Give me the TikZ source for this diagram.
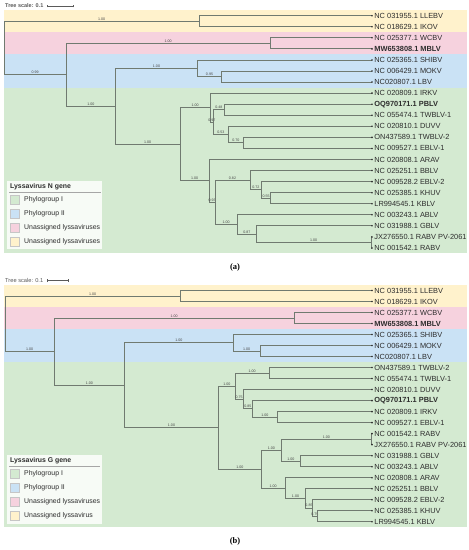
\documentclass[tikz,border=0pt]{standalone}
\usepackage{fontspec}
\setmainfont{Liberation Sans}
\newfontfamily\labfont{Liberation Serif}
\definecolor{ybd}{RGB}{255,242,204}
\definecolor{pbd}{RGB}{246,210,222}
\definecolor{bbd}{RGB}{202,226,245}
\definecolor{gbd}{RGB}{212,234,209}
\definecolor{brc}{RGB}{112,122,112}
\definecolor{blc}{RGB}{70,70,70}
\definecolor{lfc}{RGB}{45,45,45}
\definecolor{scc}{RGB}{90,90,90}
\tikzset{
  br/.style={draw=brc, line width=0.85pt},
  bl/.style={pos=0.75, above, inner sep=0.5pt, font=\fontsize{3.6}{4}\selectfont, text=blc},
  leaf/.style={anchor=west, inner sep=0pt, xshift=2.2pt, font=\fontsize{7.4}{8}\selectfont, text=lfc},
  lgt/.style={anchor=west, inner sep=0pt, font=\fontsize{6.9}{8}\selectfont, text=lfc},
  lgh/.style={anchor=west, inner sep=0pt, font=\bfseries\fontsize{6.9}{8}\selectfont, text=lfc},
  sw/.style={line width=0.5pt},
  scl/.style={anchor=west, inner sep=0pt, text=scc},
  sub/.style={inner sep=0pt, font=\labfont\bfseries\fontsize{8.5}{10}\selectfont}
}
\newcommand\tbr[3]{\draw[br] (#1) |- node[bl]{#3} (#2);}
\newcommand\tlf[2]{\draw[br] (#1) |- (#2);}
\begin{document}
\begin{tikzpicture}[x=1pt,y=-1pt]
\useasboundingbox (0,0) rectangle (469,550);
% ================= panel (a) =================
\fill[ybd] (4.3,10.17) rectangle (467,32.29);
\fill[pbd] (4.3,32.29) rectangle (467,54.41);
\fill[bbd] (4.3,54.41) rectangle (467,87.59);
\fill[gbd] (4.3,87.59) rectangle (467,253.49);
\node[scl, font=\bfseries\fontsize{5.5}{6}\selectfont] (tsa) at (5,6) {Tree scale: 0.1};
\coordinate (sa1) at (47,6); \coordinate (sa2) at (73,6);
\draw[scc, line width=0.5pt] (sa1) -- (sa2);
\draw[scc, line width=0.5pt] ([yshift=-1.3pt]sa1) -- ([yshift=1.3pt]sa1);
\draw[scc, line width=0.5pt] ([yshift=-1.3pt]sa2) -- ([yshift=1.3pt]sa2);
\foreach \i/\t in {1/{NC 031955.1 LLEBV},2/{NC 018629.1 IKOV},3/{NC 025377.1 WCBV},4/{\bfseries MW653808.1 MBLV},5/{NC 025365.1 SHIBV},6/{NC 006429.1 MOKV},7/{NC020807.1 LBV},8/{NC 020809.1 IRKV},9/{\bfseries OQ970171.1 PBLV},10/{NC 055474.1 TWBLV-1},11/{NC 020810.1 DUVV},12/{ON437589.1 TWBLV-2},13/{NC 009527.1 EBLV-1},14/{NC 020808.1 ARAV},15/{NC 025251.1 BBLV},16/{NC 009528.2 EBLV-2},17/{NC 025385.1 KHUV},18/{LR994545.1 KBLV},19/{NC 003243.1 ABLV},20/{NC 031988.1 GBLV},21/{JX276550.1 RABV PV-2061},22/{NC 001542.1 RABV}}{
  \coordinate (a\i) at (372,{15.7+(\i-1)*11.06});
  \node[leaf] (ta\i) at (a\i) {\t};
}
\coordinate (aR) at (4,48.02);
\coordinate (aY) at (199.3,21.23);
\coordinate (aB) at (66.3,74.81);
\coordinate (aP) at (270,43.35);
\coordinate (aC) at (115.3,106.26);
\coordinate (aBN) at (197.7,68.24);
\coordinate (aBS) at (221.3,76.53);
\coordinate (aD) at (180,144.28);
\coordinate (aE) at (210.3,107.64);
\coordinate (aN) at (213.3,122.16);
\coordinate (aO) at (224.3,109.71);
\coordinate (aPP) at (228.3,134.60);
\coordinate (aQ) at (243.3,142.89);
\coordinate (aF) at (209.3,180.91);
\coordinate (aG) at (215,202.34);
\coordinate (aH) at (250,180.22);
\coordinate (aJ) at (261.7,189.90);
\coordinate (aK) at (270.7,198.19);
\coordinate (aI) at (237.3,224.46);
\coordinate (aL) at (256.3,234.14);
\coordinate (aM) at (371,242.43);
\tbr{aR}{aY}{1.00}
\tbr{aR}{aB}{0.99}
\tbr{aB}{aP}{1.00}
\tbr{aB}{aC}{1.00}
\tbr{aC}{aBN}{1.00}
\tbr{aBN}{aBS}{0.95}
\tbr{aC}{aD}{1.00}
\tbr{aD}{aE}{1.00}
\tbr{aE}{aN}{0.97}
\tbr{aN}{aO}{0.48}
\tbr{aN}{aPP}{0.53}
\tbr{aPP}{aQ}{0.70}
\tbr{aD}{aF}{1.00}
\tbr{aF}{aG}{0.93}
\tbr{aG}{aH}{0.82}
\tbr{aH}{aJ}{0.72}
\tbr{aJ}{aK}{0.55}
\tbr{aG}{aI}{1.00}
\tbr{aI}{aL}{0.87}
\tbr{aL}{aM}{1.00}
\tlf{aY}{a1}\tlf{aY}{a2}
\tlf{aP}{a3}\tlf{aP}{a4}
\tlf{aBN}{a5}\tlf{aBS}{a6}\tlf{aBS}{a7}
\tlf{aE}{a8}\tlf{aO}{a9}\tlf{aO}{a10}
\tlf{aPP}{a11}\tlf{aQ}{a12}\tlf{aQ}{a13}
\tlf{aF}{a14}\tlf{aH}{a15}\tlf{aJ}{a16}
\tlf{aK}{a17}\tlf{aK}{a18}
\tlf{aI}{a19}\tlf{aL}{a20}\tlf{aM}{a21}\tlf{aM}{a22}
\foreach \i in {1,...,22}{\fill[lfc] (a\i) circle (0.9);}
% legend (a)
\fill[white, opacity=0.82] (7.3,180.7) rectangle (102.3,249.3);
\node[lgh] (lah) at (10,186.7) {Lyssavirus N gene};
\draw[gray!70, line width=0.7pt] (9,192.4) -- (100.5,192.4);
\draw[sw, fill=gbd!90!black!0, draw=gray!45, fill=gbd] (10,195.4) rectangle (19.3,204.6);
\draw[sw, draw=gray!45, fill=bbd] (10,209.1) rectangle (19.3,218.3);
\draw[sw, draw=gray!45, fill=pbd] (10,223.4) rectangle (19.3,232.6);
\draw[sw, draw=gray!45, fill=ybd] (10,237.1) rectangle (19.3,246.3);
\node[lgt] (la1) at (24,200) {Phylogroup I};
\node[lgt] (la2) at (24,213.7) {Phylogroup II};
\node[lgt] (la3) at (24,228) {Unassigned lyssaviruses};
\node[lgt] (la4) at (24,241.7) {Unassigned lyssaviruses};
\node[sub] (capa) at (235,267) {(a)};
% ================= panel (b) =================
\fill[ybd] (4.3,285.0) rectangle (467,307.0);
\fill[pbd] (4.3,307.0) rectangle (467,329.0);
\fill[bbd] (4.3,329.0) rectangle (467,362.1);
\fill[gbd] (4.3,362.1) rectangle (467,527.2);
\node[scl, font=\fontsize{5.7}{6}\selectfont] (tsb) at (5,280.7) {Tree scale: 0.1};
\coordinate (sb1) at (47.3,280.7); \coordinate (sb2) at (68.3,280.7);
\draw[scc, line width=0.5pt] (sb1) -- (sb2);
\draw[scc, line width=0.5pt] ([yshift=-1.3pt]sb1) -- ([yshift=1.3pt]sb1);
\draw[scc, line width=0.5pt] ([yshift=-1.3pt]sb2) -- ([yshift=1.3pt]sb2);
\foreach \i/\t in {1/{NC 031955.1 LLEBV},2/{NC 018629.1 IKOV},3/{NC 025377.1 WCBV},4/{\bfseries MW653808.1 MBLV},5/{NC 025365.1 SHIBV},6/{NC 006429.1 MOKV},7/{NC020807.1 LBV},8/{ON437589.1 TWBLV-2},9/{NC 055474.1 TWBLV-1},10/{NC 020810.1 DUVV},11/{\bfseries OQ970171.1 PBLV},12/{NC 020809.1 IRKV},13/{NC 009527.1 EBLV-1},14/{NC 001542.1 RABV},15/{JX276550.1 RABV PV-2061},16/{NC 031988.1 GBLV},17/{NC 003243.1 ABLV},18/{NC 020808.1 ARAV},19/{NC 025251.1 BBLV},20/{NC 009528.2 EBLV-2},21/{NC 025385.1 KHUV},22/{LR994545.1 KBLV}}{
  \coordinate (b\i) at (372,{290.5+(\i-1)*11.01});
  \node[leaf] (tb\i) at (b\i) {\t};
}
\coordinate (bR) at (5,323.82);
\coordinate (bY) at (180.3,296.01);
\coordinate (bB) at (54.3,351.62);
\coordinate (bP) at (294,318.03);
\coordinate (bC) at (124.3,385.21);
\coordinate (bBN) at (233.3,342.80);
\coordinate (bBS) at (260,351.06);
\coordinate (bD) at (218.7,427.62);
\coordinate (bE) at (235,386.16);
\coordinate (bF) at (269.3,373.08);
\coordinate (bG) at (243.3,399.23);
\coordinate (bH) at (252.3,408.86);
\coordinate (bI) at (277.3,417.12);
\coordinate (bJ) at (261,469.07);
\coordinate (bK) at (281.7,450.15);
\coordinate (bL) at (371,439.14);
\coordinate (bM) at (300,461.16);
\coordinate (bN) at (285.3,487.99);
\coordinate (bO) at (305.7,498.32);
\coordinate (bPP) at (312.3,507.95);
\coordinate (bQ) at (317.3,516.21);
\tbr{bR}{bY}{1.00}
\tbr{bR}{bB}{1.00}
\tbr{bB}{bP}{1.00}
\tbr{bB}{bC}{1.00}
\tbr{bC}{bBN}{1.00}
\tbr{bBN}{bBS}{1.00}
\tbr{bC}{bD}{1.00}
\tbr{bD}{bE}{1.00}
\tbr{bE}{bF}{1.00}
\tbr{bE}{bG}{0.75}
\tbr{bG}{bH}{0.85}
\tbr{bH}{bI}{1.00}
\tbr{bD}{bJ}{1.00}
\tbr{bJ}{bK}{1.00}
\tbr{bK}{bL}{1.00}
\tbr{bK}{bM}{1.00}
\tbr{bJ}{bN}{1.00}
\tbr{bN}{bO}{1.00}
\tbr{bO}{bPP}{0.85}
\tbr{bPP}{bQ}{0.75}
\tlf{bY}{b1}\tlf{bY}{b2}
\tlf{bP}{b3}\tlf{bP}{b4}
\tlf{bBN}{b5}\tlf{bBS}{b6}\tlf{bBS}{b7}
\tlf{bF}{b8}\tlf{bF}{b9}
\tlf{bG}{b10}\tlf{bH}{b11}\tlf{bI}{b12}\tlf{bI}{b13}
\tlf{bL}{b14}\tlf{bL}{b15}\tlf{bM}{b16}\tlf{bM}{b17}
\tlf{bN}{b18}\tlf{bO}{b19}\tlf{bPP}{b20}\tlf{bQ}{b21}\tlf{bQ}{b22}
\foreach \i in {1,...,22}{\fill[lfc] (b\i) circle (0.9);}
% legend (b)
\fill[white, opacity=0.82] (7.3,455) rectangle (101.7,524);
\node[lgh] (lbh) at (10,460.7) {Lyssavirus G gene};
\draw[gray!70, line width=0.7pt] (9,466.6) -- (100,466.6);
\draw[sw, draw=gray!45, fill=gbd] (10,469.4) rectangle (19.3,478.6);
\draw[sw, draw=gray!45, fill=bbd] (10,483.4) rectangle (19.3,492.6);
\draw[sw, draw=gray!45, fill=pbd] (10,497.1) rectangle (19.3,506.3);
\draw[sw, draw=gray!45, fill=ybd] (10,511.1) rectangle (19.3,520.3);
\node[lgt] (lb1) at (24,474) {Phylogroup I};
\node[lgt] (lb2) at (24,488) {Phylogroup II};
\node[lgt] (lb3) at (24,501.7) {Unassigned lyssaviruses};
\node[lgt] (lb4) at (24,515.7) {Unassigned lyssavirus};
\node[sub] (capb) at (235,541) {(b)};
\end{tikzpicture}
\end{document}
